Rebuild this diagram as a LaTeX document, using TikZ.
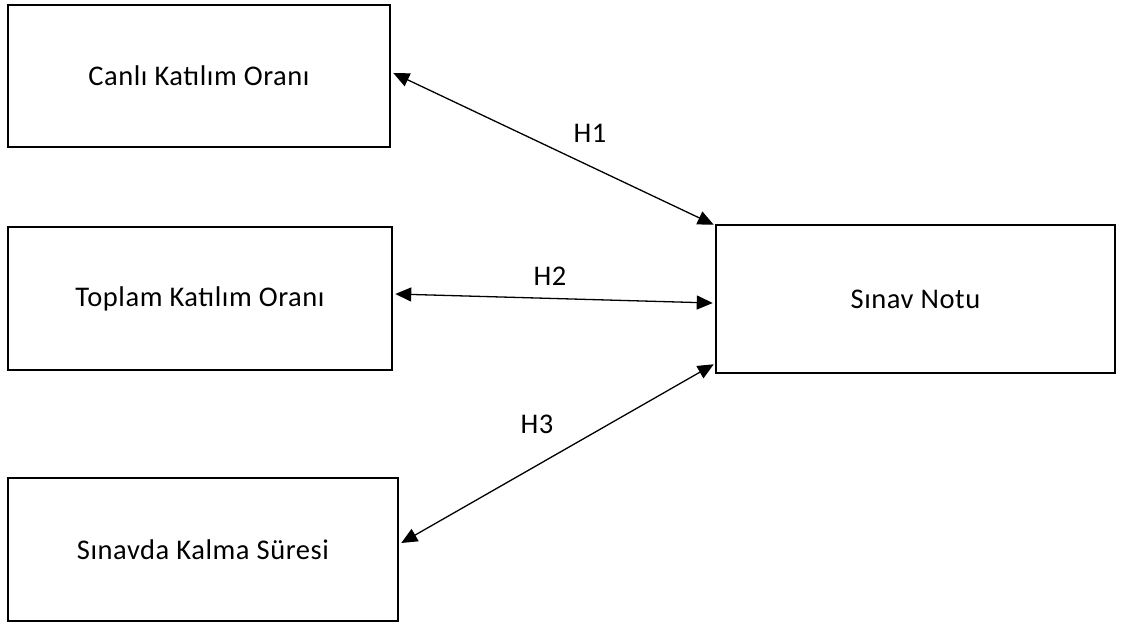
\documentclass[tikz,border=0pt]{standalone}
\usepackage{fontspec}
\setmainfont{Carlito}[LetterSpace=2]
\usetikzlibrary{arrows.meta}
\begin{document}
\begin{tikzpicture}[x=1pt,y=-1pt,
  box/.style={draw=black,line width=2.5pt,inner sep=0pt,font=\fontsize{28.5}{32}\selectfont},
  link/.style={line width=1.3pt,{Triangle[length=16pt,width=14pt]}-{Triangle[length=16pt,width=14pt]}},
  lab/.style={font=\fontsize{28.5}{32}\selectfont,inner sep=0pt}]
\useasboundingbox (0,0) rectangle (1121,623);
\node[box,minimum width=382pt,minimum height=142pt] (a) at (199,76) {Canlı Katılım Oranı};
\node[box,minimum width=384pt,minimum height=143pt] (b) at (200,298.5) {Toplam Katılım Oranı};
\node[box,minimum width=390pt,minimum height=143pt] (c) at (203,549.5) {Sınavda Kalma Süresi};
\node[box,minimum width=399pt,minimum height=148pt] (d) at (915.5,299) {Sınav Notu};
\draw[link] ([yshift=3pt,xshift=2pt]a.east) -- ([xshift=-1pt,yshift=-1pt]d.north west);
\draw[link] ([yshift=4.5pt,xshift=2pt]b.east) -- ([yshift=-4pt,xshift=-2pt]d.west);
\draw[link] ([yshift=6.5pt,xshift=2pt]c.east) -- ([yshift=10pt,xshift=-1pt]d.south west);
\node[lab] (h1) at (590,133) {H1};
\node[lab] (h2) at (550,276) {H2};
\node[lab] (h3) at (537,424) {H3};
\end{tikzpicture}
\end{document}
